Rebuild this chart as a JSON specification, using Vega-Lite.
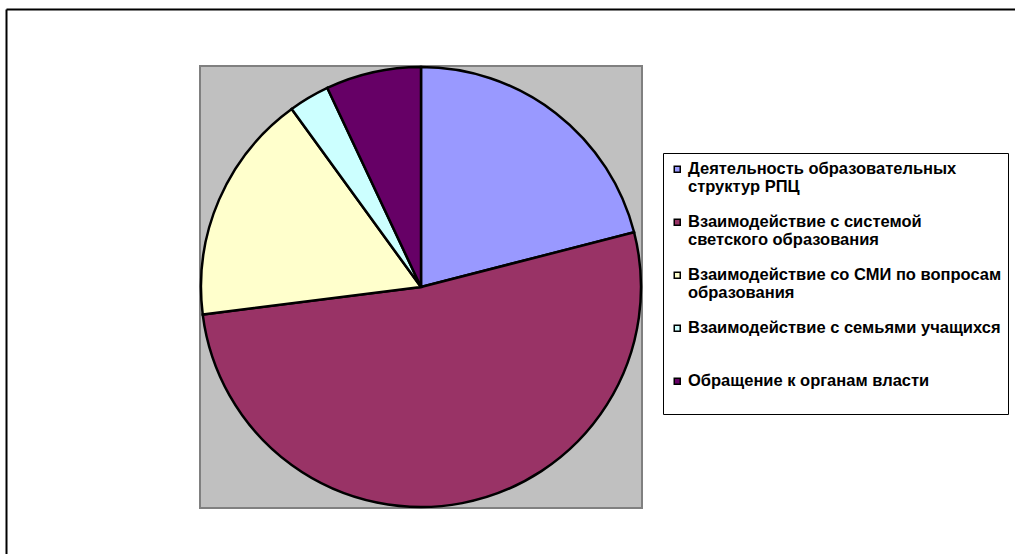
{
  "$schema": "https://vega.github.io/schema/vega-lite/v6.json",
  "width": 442,
  "height": 442,
  "autosize": {"type": "none"},
  "padding": {"left": 200, "top": 66, "right": 373, "bottom": 46},
  "background": "white",
  "config": {
    "view": {"fill": "#C0C0C0", "stroke": "#808080", "strokeWidth": 2}
  },
  "data": {
    "values": [
      {"idx": 1, "category": "Деятельность образовательных\nструктур РПЦ", "value": 21},
      {"idx": 2, "category": "Взаимодействие с системой\nсветского образования", "value": 52},
      {"idx": 3, "category": "Взаимодействие со СМИ по вопросам\nобразования", "value": 17},
      {"idx": 4, "category": "Взаимодействие с семьями учащихся", "value": 3},
      {"idx": 5, "category": "Обращение к органам власти", "value": 7}
    ]
  },
  "layer": [
    {
      "mark": {"type": "arc", "outerRadius": 220, "stroke": "black", "strokeWidth": 2.5},
      "encoding": {
        "theta": {"field": "value", "type": "quantitative", "stack": true},
        "order": {"field": "idx", "type": "quantitative"},
        "color": {
          "field": "category",
          "type": "nominal",
          "scale": {
            "domain": [
              "Деятельность образовательных\nструктур РПЦ",
              "Взаимодействие с системой\nсветского образования",
              "Взаимодействие со СМИ по вопросам\nобразования",
              "Взаимодействие с семьями учащихся",
              "Обращение к органам власти"
            ],
            "range": ["#9999FF", "#993366", "#FFFFCC", "#CCFFFF", "#660066"]
          },
          "legend": {
            "orient": "none",
            "legendX": 463,
            "legendY": 87,
            "title": " ",
            "titleFontSize": 1,
            "titlePadding": 1,
            "strokeColor": "black",
            "fillColor": "white",
            "padding": 6,
            "symbolType": "square",
            "symbolSize": 36,
            "symbolStrokeColor": "black",
            "symbolStrokeWidth": 1.5,
            "labelFont": "Liberation Sans",
            "labelFontSize": 16.5,
            "labelFontWeight": "bold",
            "labelColor": "black",
            "labelLimit": 500,
            "labelOffset": 2.5,
            "labelBaseline": "top",
            "rowPadding": 18,
            "labelExpr": "indexof(datum.label, '\\n') >= 0 ? split(datum.label, '\\n') : [datum.label, ' ']",
            "encode": {
              "labels": {"update": {"lineHeight": {"value": 18}, "dy": {"value": -8}}}
            }
          }
        }
      }
    },
    {
      "mark": {"type": "point", "opacity": 0},
      "encoding": {
        "x": {
          "field": "value",
          "type": "quantitative",
          "scale": {"domain": [0, 100], "range": [-194, 815]},
          "axis": {"orient": "top", "offset": 57, "domain": true, "domainColor": "black", "domainWidth": 2, "ticks": false, "labels": false, "grid": false, "title": null}
        },
        "y": {
          "field": "idx",
          "type": "quantitative",
          "scale": {"domain": [0, 10], "range": [488, -57]},
          "axis": {"orient": "left", "offset": 194, "domain": true, "domainColor": "black", "domainWidth": 2, "ticks": false, "labels": false, "grid": false, "title": null}
        }
      }
    }
  ]
}
